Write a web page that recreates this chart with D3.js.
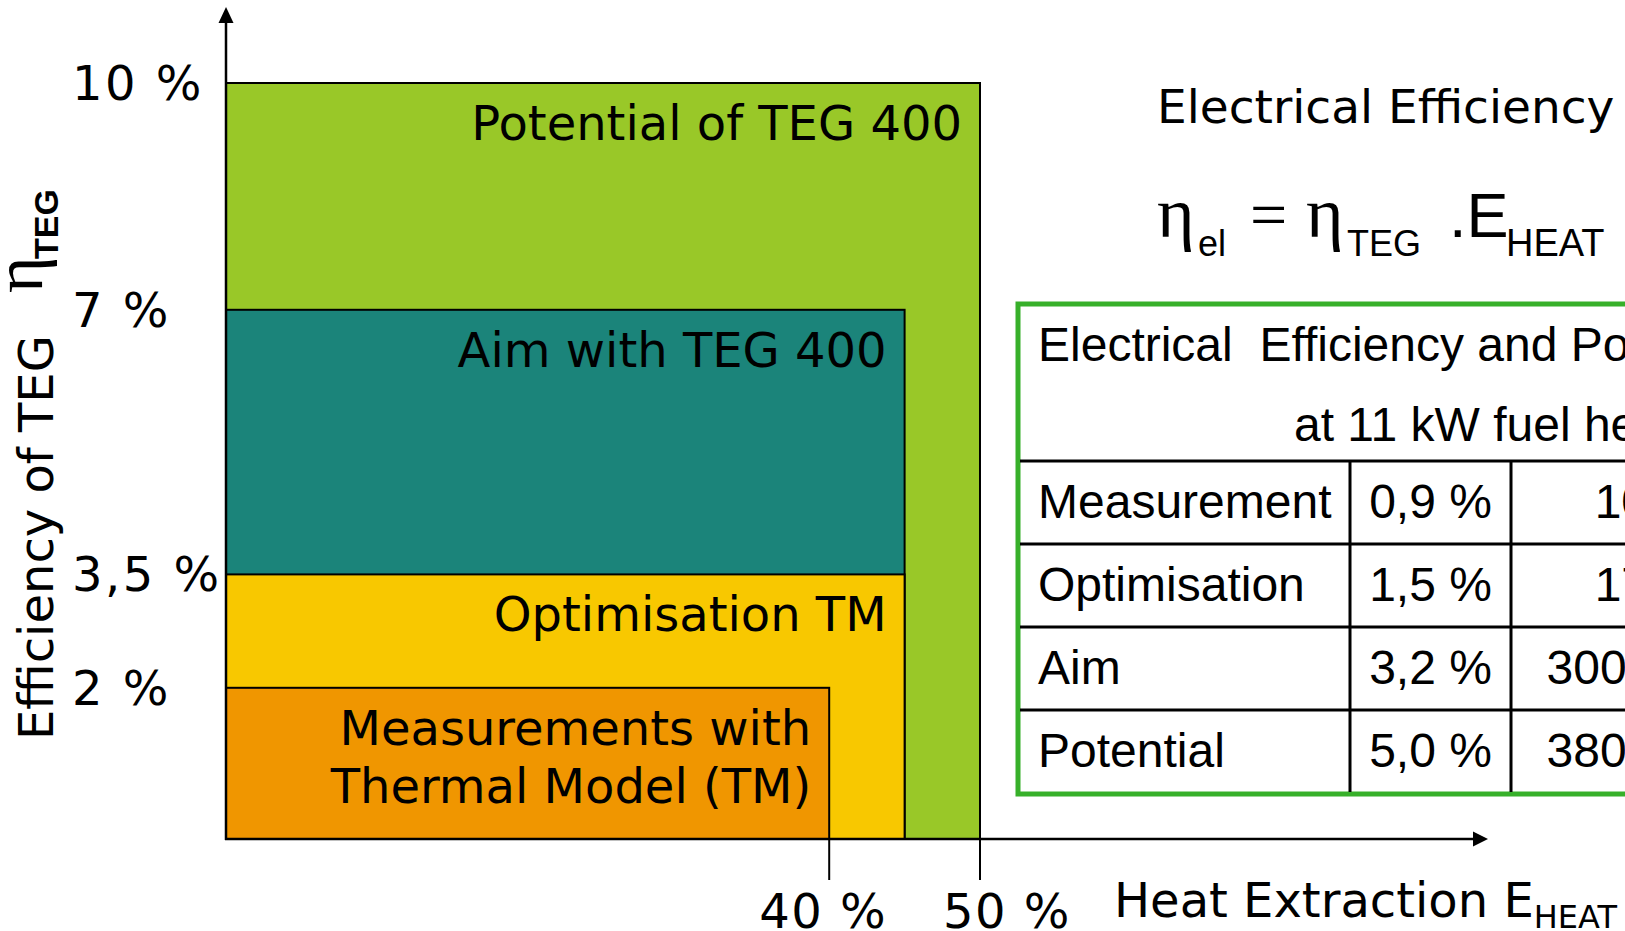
<!DOCTYPE html>
<html>
<head>
<meta charset="utf-8">
<script src="https://cdn.jsdelivr.net/npm/d3@7"></script>
<style>
  body { margin: 0; background: #fff; }
  svg { display: block; }
</style>
</head>
<body>
<svg id="chart" width="1625" height="931"></svg>
<script>
// nested regions, biggest first so the smaller ones sit on top
const regionNames = ["Potential of TEG 400", "Aim with TEG 400", "Optimisation TM", "Measurements with\nThermal Model (TM)"]
const heatExtraction = [50, 45, 45, 40]      // % (x)
const tegEfficiency = [10, 7, 3.5, 2]        // % (y)
const regionColors = ["#99c828", "#1b847a", "#f8c800", "#f09600"]

const yTicks = [10, 7, 3.5, 2]
const yTickLabels = ["10 %", "7 %", "3,5 %", "2 %"]
const xTicks = [40, 50]
const xTickLabels = ["40 %", "50 %"]

const tableRows = ["Measurement", "Optimisation", "Aim", "Potential"]
const tableEfficiency = ["0,9 %", "1,5 %", "3,2 %", "5,0 %"]
const tablePower = ["100 W", "170 W", "300-350 W", "380-550 W"]

const sans = "'DejaVu Sans', Verdana, sans-serif"
const arial = "'Liberation Sans', Arial, sans-serif"
const serif = "'Liberation Serif', 'Times New Roman', serif"

let svg = d3.select('#chart')

let x = d3.scaleLinear().domain([0, 50]).range([226, 980])
let y = d3.scaleLinear().domain([0, 10]).range([839, 83])

let regions = regionNames.map((name, i) => ({
    name: name,
    heat: heatExtraction[i],
    eff: tegEfficiency[i],
    color: regionColors[i]
}))

// tick lines below the x axis (the rect edges continue them)
svg.selectAll('line.xtick')
.data(xTicks)
.enter()
.append('line')
.attr('class', 'xtick')
.attr('x1', (d) => x(d))
.attr('x2', (d) => x(d))
.attr('y1', y(0))
.attr('y2', y(0) + 41)
.attr('stroke', 'black')
.attr('stroke-width', 2)

let groups = svg.selectAll('g.region')
.data(regions)
.enter()
.append('g')
.attr('class', 'region')

groups.append('rect')
.attr('x', x(0))
.attr('y', (d) => y(d.eff))
.attr('width', (d) => x(d.heat) - x(0))
.attr('height', (d) => y(0) - y(d.eff))
.attr('fill', (d) => d.color)
.attr('stroke', 'black')
.attr('stroke-width', 2)

groups.append('text')
.attr('text-anchor', 'end')
.attr('font-family', sans)
.attr('font-size', 48)
.attr('fill', 'black')
.each(function(d) {
    let lines = d.name.split('\n')
    d3.select(this).selectAll('tspan')
    .data(lines)
    .enter()
    .append('tspan')
    .attr('x', x(d.heat) - 18)
    .attr('y', (l, i) => y(d.eff) + 57 + i * 58)
    .text((l) => l)
})

// axes with arrow heads
svg.append('line')
.attr('x1', x(0)).attr('x2', x(0))
.attr('y1', y(0) + 1).attr('y2', 20)
.attr('stroke', 'black').attr('stroke-width', 2.5)

svg.append('path')
.attr('d', `M${x(0)},7 L${x(0) - 7.5},23 L${x(0) + 7.5},23 Z`)
.attr('fill', 'black')

svg.append('line')
.attr('x1', x(0) - 1).attr('x2', 1476)
.attr('y1', y(0)).attr('y2', y(0))
.attr('stroke', 'black').attr('stroke-width', 2.5)

svg.append('path')
.attr('d', `M1488,${y(0)} L1473,${y(0) - 7.5} L1473,${y(0) + 7.5} Z`)
.attr('fill', 'black')

// y tick labels
svg.selectAll('text.ytick')
.data(yTicks)
.enter()
.append('text')
.attr('class', 'ytick')
.attr('x', 72)
.attr('y', (d) => y(d) + 17)
.attr('font-family', sans)
.attr('font-size', 48)
.attr('letter-spacing', 2.5)
.text((d, i) => yTickLabels[i])

// x tick labels (not centred on the ticks in the original)
let xLabelShift = [-6, 27]
svg.selectAll('text.xtick')
.data(xTicks)
.enter()
.append('text')
.attr('class', 'xtick')
.attr('x', (d, i) => x(d) + xLabelShift[i])
.attr('y', 928)
.attr('text-anchor', 'middle')
.attr('font-family', sans)
.attr('font-size', 48)
.attr('letter-spacing', 1.5)
.text((d, i) => xTickLabels[i])

// x axis title
let xTitle = svg.append('text')
.attr('x', 1114)
.attr('y', 917)
.attr('font-family', sans)
.attr('font-size', 48)
xTitle.append('tspan').text('Heat Extraction E')
xTitle.append('tspan').attr('font-size', 32).attr('dy', 11).text('HEAT')

// y axis title, rotated
let yTitle = svg.append('g')
.attr('transform', 'translate(53, 740) rotate(-90)')

yTitle.append('text')
.attr('x', 0).attr('y', 0)
.attr('font-family', sans)
.attr('font-size', 48)
.text('Efficiency of TEG')

yTitle.append('text')
.attr('x', 447).attr('y', -11)
.attr('font-family', serif)
.attr('font-size', 70)
.text('η')

yTitle.append('text')
.attr('x', 481).attr('y', 5)
.attr('font-family', arial)
.attr('font-weight', 'bold')
.attr('font-size', 34)
.text('TEG')

// formula on the right
svg.append('text')
.attr('x', 1157).attr('y', 123)
.attr('font-family', sans)
.attr('font-size', 47)
.text('Electrical Efficiency')

let formula = [
    {t: 'η', x: 1157, y: 237, f: serif, s: 72},
    {t: 'el', x: 1198, y: 256, f: arial, s: 36},
    {t: '=', x: 1250, y: 237, f: serif, s: 66},
    {t: 'η', x: 1306, y: 237, f: serif, s: 72},
    {t: 'TEG', x: 1347, y: 256, f: arial, s: 36},
    {t: '.E', x: 1449, y: 237, f: arial, s: 63},
    {t: 'HEAT', x: 1506, y: 256, f: arial, s: 38}
]
svg.selectAll('text.formula')
.data(formula)
.enter()
.append('text')
.attr('class', 'formula')
.attr('x', (d) => d.x)
.attr('y', (d) => d.y)
.attr('font-family', (d) => d.f)
.attr('font-size', (d) => d.s)
.text((d) => d.t)

// table
let table = svg.append('g')
let rowTop = 461
let rowH = 83
let colX = [1018, 1350, 1511, 1817]

table.append('rect')
.attr('x', 1018).attr('y', 304)
.attr('width', 800).attr('height', 490)
.attr('fill', 'white')
.attr('stroke', '#37b02a')
.attr('stroke-width', 5)

table.selectAll('line.row')
.data(tableRows)
.enter()
.append('line')
.attr('x1', 1020).attr('x2', 1700)
.attr('y1', (d, i) => rowTop + i * rowH)
.attr('y2', (d, i) => rowTop + i * rowH)
.attr('stroke', 'black').attr('stroke-width', 3)

table.selectAll('line.col')
.data([colX[1], colX[2]])
.enter()
.append('line')
.attr('x1', (d) => d).attr('x2', (d) => d)
.attr('y1', rowTop).attr('y2', 792)
.attr('stroke', 'black').attr('stroke-width', 3)

table.append('text')
.attr('x', 1038).attr('y', 361)
.attr('font-family', arial).attr('font-size', 48)
.style('white-space', 'pre')
.text('Electrical  Efficiency and Power')

table.append('text')
.attr('x', 1294).attr('y', 441)
.attr('font-family', arial).attr('font-size', 48)
.text('at 11 kW fuel heat')

let rows = table.selectAll('g.row')
.data(tableRows)
.enter()
.append('g')
.attr('transform', (d, i) => `translate(0 ${rowTop + i * rowH + 57})`)

rows.append('text')
.attr('x', 1038)
.attr('font-family', arial).attr('font-size', 48)
.text((d) => d)

rows.append('text')
.attr('x', (colX[1] + colX[2]) / 2)
.attr('text-anchor', 'middle')
.attr('font-family', arial).attr('font-size', 48)
.text((d, i) => tableEfficiency[i])

rows.append('text')
.attr('x', (colX[2] + colX[3]) / 2)
.attr('text-anchor', 'middle')
.attr('font-family', arial).attr('font-size', 48)
.text((d, i) => tablePower[i])
</script>
</body>
</html>
